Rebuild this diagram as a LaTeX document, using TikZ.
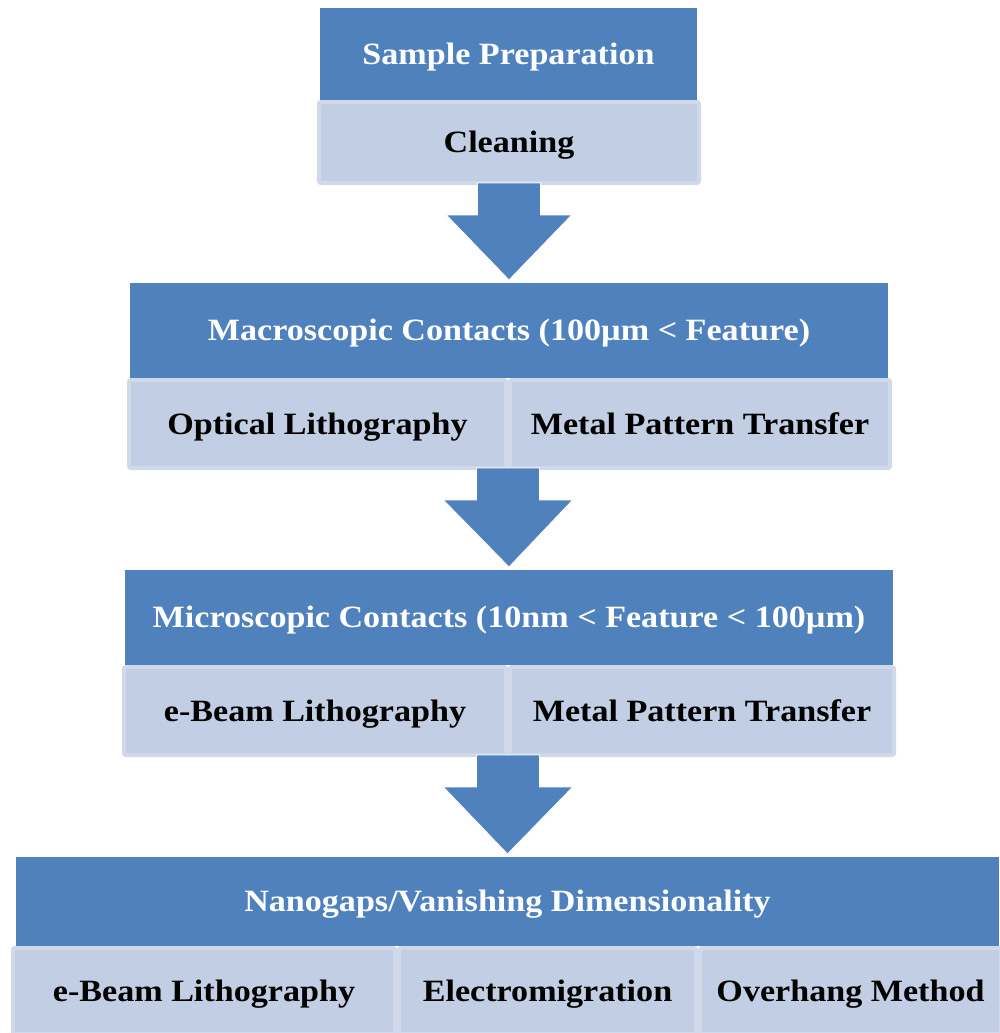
\documentclass[tikz,border=0pt]{standalone}
\usepackage{fontspec}
\setmainfont{Liberation Serif}[FakeStretch=1.10]
\usetikzlibrary{calc}
\definecolor{darkblue}{HTML}{4F81BD}
\definecolor{lightfill}{HTML}{C2CEE3}
\definecolor{lightedge}{HTML}{CFD9EA}
\tikzset{
  x=1pt, y=-1pt,
  boxtext/.style={font=\fontsize{31}{36}\selectfont\bfseries, text height=22pt, text depth=2pt},
  headbox/.style={boxtext, fill=darkblue, text=white, inner sep=0pt},
  subbox/.style={boxtext, fill=lightfill, draw=lightedge, line width=4pt, rounded corners=2pt, text=black, inner sep=0pt},
  blockarrow/.style={fill=darkblue, draw=white, line width=0.6pt, line join=miter}
}
\newcommand{\blockarrow}[2]{%
  \path[blockarrow] ($(#1.south)+(-31.5,-2)$) -- ++(0,32) -- ++(-31,0)
    -- ($(#2.north)+(0,-3)$) -- ($(#1.south)+(62.5,30)$) -- ++(-31,0) -- ++(0,-32) -- cycle;}
\begin{document}
\begin{tikzpicture}
\useasboundingbox[fill=white] (0,0) rectangle (999,1033);
% level 1
\node[headbox, minimum width=377pt, minimum height=92pt] (prep) at (508.5,54) {Sample Preparation};
\node[subbox, minimum width=380pt, minimum height=81pt] (clean) at (509,142.5) {Cleaning};
% level 2
\node[headbox, minimum width=758pt, minimum height=95pt] (macro) at (509,330.5) {Macroscopic Contacts (100µm < Feature)};
\node[subbox, minimum width=377pt, minimum height=88pt] (optlith) at (317.5,424) {Optical Lithography};
\node[subbox, minimum width=380pt, minimum height=88pt] (mpt1) at (700,424) {Metal Pattern Transfer};
% level 3
\node[headbox, minimum width=768pt, minimum height=95pt] (micro) at (509,617.5) {Microscopic Contacts (10nm < Feature < 100µm)};
\node[subbox, minimum width=382pt, minimum height=88pt] (eb1) at (315,711) {e-Beam Lithography};
\node[subbox, minimum width=384pt, minimum height=88pt] (mpt2) at (702,711) {Metal Pattern Transfer};
% level 4
\node[headbox, minimum width=983pt, minimum height=89pt] (nano) at (507.5,901.5) {Nanogaps/Vanishing Dimensionality};
\node[subbox, minimum width=382pt, minimum height=86pt] (eb2) at (204,991) {e-Beam Lithography};
\node[subbox, minimum width=297pt, minimum height=86pt] (em) at (547.5,991) {Electromigration};
\node[subbox, minimum width=301pt, minimum height=86pt] (oh) at (850.5,991) {Overhang Method};
% arrows
\blockarrow{clean}{macro}
\coordinate (l2) at ($(optlith.south east)!0.5!(mpt1.south west)$);
\coordinate (l3) at ($(eb1.south east)!0.5!(mpt2.south west)$);
\path[blockarrow] ($(l2)+(-31.5,-2)$) -- ++(0,32) -- ++(-33,0) -- ($(micro.north)+(0,-3)$) -- ($(l2)+(64.5,30)$) -- ++(-33,0) -- ++(0,-32) -- cycle;
\path[blockarrow] ($(l3)+(-31.5,-2)$) -- ++(0,32) -- ++(-33,0) -- ($(nano.north)+(0,-3)$) -- ($(l3)+(64.5,30)$) -- ++(-33,0) -- ++(0,-32) -- cycle;
\end{tikzpicture}
\end{document}
